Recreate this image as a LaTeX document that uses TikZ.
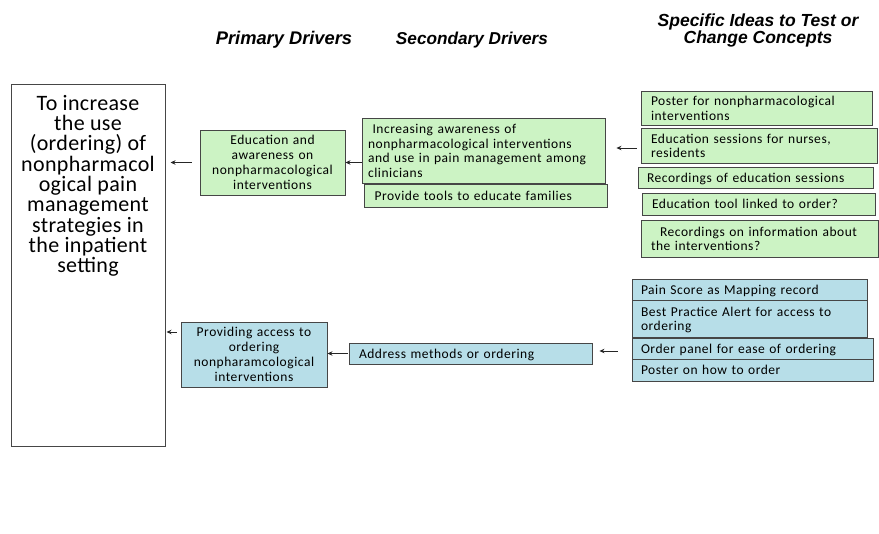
\documentclass[tikz,border=0pt]{standalone}
\usepackage{fontspec}
\setmainfont{Carlito}[LetterSpace=4]
\newfontfamily\goalfont{Carlito}[LetterSpace=1.5]
\newfontfamily\hdrfont{Liberation Sans}
\usetikzlibrary{arrows.meta}
\definecolor{gfill}{RGB}{204,243,196}
\definecolor{bfill}{RGB}{183,222,232}
\definecolor{bordc}{RGB}{70,70,70}
\newcommand\boxlines[1]{\raisebox{-2pt}[\height][\depth]{\begin{tabular}{@{}l@{}}#1\end{tabular}}}
\newcommand\clines[1]{\raisebox{-1.5pt}[\height][\depth]{\begin{tabular}{@{}c@{}}#1\end{tabular}}}
\begin{document}
\begin{tikzpicture}[x=1pt,y=-1pt,
  box/.style={draw=bordc, line width=0.9pt, inner ysep=0pt, inner xsep=4pt,
    font=\fontsize{13.5}{14.9}\selectfont},
  gbox/.style={box, fill=gfill},
  bbox/.style={box, fill=bfill},
  goalbox/.style={draw=bordc, line width=1pt, fill=white, inner sep=0pt},
  goaltxt/.style={align=center, inner sep=0pt, font=\goalfont\fontsize{22}{20.3}\selectfont},
  hdr/.style={align=center, inner sep=0pt, font=\hdrfont\bfseries\itshape\fontsize{17.5}{17}\selectfont},
  arr/.style={draw=black!85, line width=0.8pt, -{Stealth[length=5pt,width=4.5pt]}}
]
\useasboundingbox (0,0) rectangle (879,534);

% headers
\node[hdr] (h1) at (284,40) {\fontsize{18.3}{17}\selectfont Primary Drivers};
\node[hdr] (h2) at (472,40) {\fontsize{17.2}{17}\selectfont Secondary Drivers};
\node[hdr] (h3) at (758,30) {Specific Ideas to Test or\\Change Concepts};

% goal
\node[goalbox, minimum width=154pt, minimum height=362pt] (goal) at (88,266) {};
\node[goaltxt, anchor=north] (goaltext) at (88,95) {To increase\\the use\\(ordering) of\\nonpharmacol\\ogical pain\\management\\strategies in\\the inpatient\\setting};

% green branch
\node[gbox, text width=137pt, minimum height=65pt, align=center] (p1) at (272.5,162.5)
  {\clines{Education and\\awareness on\\nonpharmacological\\interventions}};
\node[gbox, text width=231pt, inner xsep=6pt, minimum height=65pt, align=left] (s1) at (483.5,150.5)
  {\boxlines{\ Increasing awareness of\\nonpharmacological interventions\\and use in pain management among\\clinicians}};
\node[gbox, text width=231pt, inner xsep=6pt, minimum height=23pt, align=left] (s1b) at (485.5,195.5)
  {\boxlines{\ Provide tools to educate families}};

\node[gbox, text width=211pt, inner xsep=10pt, minimum height=34pt, align=left] (i1) at (756.5,108)
  {\boxlines{Poster for nonpharmacological\\interventions}};
\node[gbox, text width=216pt, inner xsep=10pt, minimum height=35pt, align=left] (i2) at (759,145.5)
  {\boxlines{Education sessions for nurses,\\residents}};
\node[gbox, text width=217pt, inner xsep=9pt, minimum height=21pt, align=left] (i3) at (755.5,177.5)
  {\boxlines{Recordings of education sessions}};
\node[gbox, text width=213pt, inner xsep=10pt, minimum height=22pt, align=left] (i4) at (758.5,204)
  {\boxlines{Education tool linked to order?}};
\node[gbox, text width=217pt, inner xsep=10pt, minimum height=37pt, align=left] (i5) at (759.5,238.5)
  {\boxlines{\ \ Recordings on information about\\the interventions?}};

% blue branch
\node[bbox, text width=138pt, minimum height=65pt, align=center] (p2) at (254,354.5)
  {\clines{Providing access to\\ordering\\nonpharamcological\\interventions}};
\node[bbox, text width=223pt, inner xsep=10pt, minimum height=21pt, align=left] (s2) at (470.5,353.5)
  {\boxlines{Address methods or ordering}};

\node[bbox, text width=217pt, inner xsep=9pt, minimum height=21pt, align=left] (j1) at (749.5,289.5)
  {\boxlines{Pain Score as Mapping record}};
\node[bbox, text width=217pt, inner xsep=9pt, minimum height=37pt, align=left] (j2) at (749.5,318.5)
  {\boxlines{Best Practice Alert for access to\\ordering}};
\node[bbox, text width=223pt, inner xsep=9pt, minimum height=21pt, align=left] (j3) at (752.5,348.5)
  {\boxlines{Order panel for ease of ordering}};
\node[bbox, text width=223pt, inner xsep=9pt, minimum height=22pt, align=left] (j4) at (752.5,370)
  {\boxlines{Poster on how to order}};

% arrows
\draw[arr, shorten <=4pt, shorten >=11pt] ([yshift=-2.5pt]i2.west) -- ([yshift=-2.5pt]i2.west -| s1.east);
\draw[arr] (p1.east -| s1.west) -- (p1.east);
\draw[arr, shorten <=8pt, shorten >=5pt] (p1.west) -- (p1.west -| goal.east);
\draw[arr, shorten <=14pt, shorten >=7pt] ([yshift=-2.5pt]j3.west) -- ([yshift=-2.5pt]j3.west -| s2.east);
\draw[arr, shorten <=1pt] (s2.west) -- (s2.west -| p2.east);
\draw[arr, shorten <=4pt, shorten >=1pt] ([yshift=22.5pt]p2.west) -- ([yshift=22.5pt]p2.west -| goal.east);
\end{tikzpicture}
\end{document}
